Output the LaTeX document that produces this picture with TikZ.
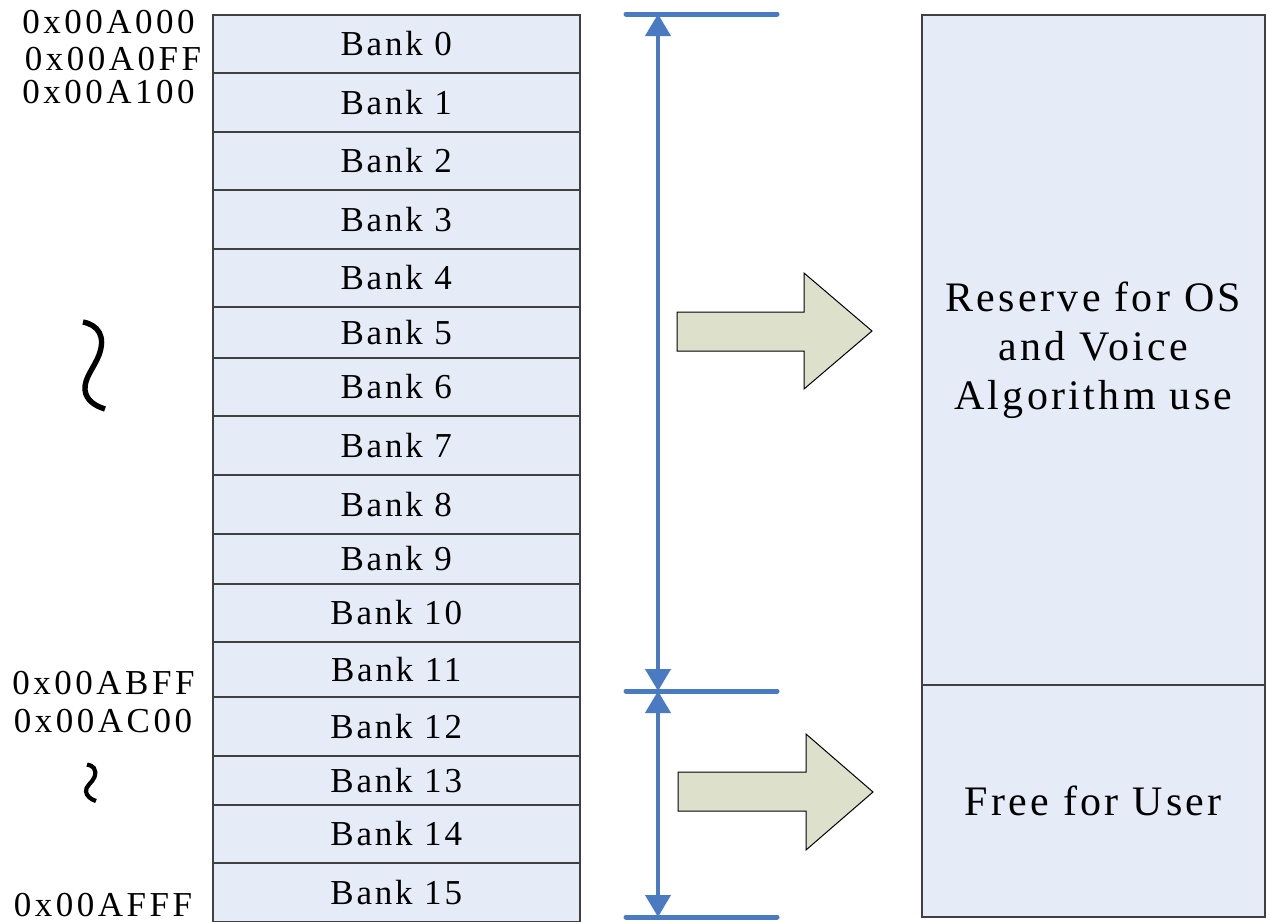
\documentclass[tikz,border=0pt]{standalone}
\usepackage{fontspec}
\setmainfont{Liberation Serif}[LetterSpace=8]
\newfontfamily\hexfont{Liberation Serif}[LetterSpace=10]
\usetikzlibrary{arrows.meta}
\definecolor{bankfill}{HTML}{E6ECF7}
\definecolor{blockfill}{HTML}{DDE1CC}
\definecolor{dimblue}{HTML}{4A7BC2}
\definecolor{edgegray}{HTML}{404040}
\begin{document}
\begin{tikzpicture}[x=0.5pt,y=-0.5pt,
  bankbox/.style={draw=edgegray, line width=0.75pt, fill=bankfill, minimum width=183.5pt,
    anchor=north west, inner sep=0pt, font=\fontsize{17.5}{21}\selectfont},
  hexlabel/.style={anchor=base, inner sep=0pt, font=\hexfont\fontsize{17.5}{21}\selectfont},
  areabox/.style={draw=edgegray, line width=0.75pt, fill=bankfill, minimum width=171.5pt,
    anchor=north west, inner sep=0pt, align=center, font=\fontsize{21}{24.5}\selectfont},
  blockarrow/.style={draw=black, line width=0.5pt, fill=blockfill},
  dimline/.style={draw=dimblue, line width=2.5pt, line cap=round},
  dimarrow/.style={draw=dimblue, line width=2pt,
    {Triangle[width=12.5pt,length=11pt]}-{Triangle[width=12.5pt,length=11pt]}},
  squiggle/.style={draw=black, line cap=butt}]
\useasboundingbox (0,0) rectangle (1269,921);

% bank column
\foreach \i/\t/\b in {0/14/72, 1/72/131, 2/131/189, 3/189/248, 4/248/306, 5/306/357,
  6/357/415, 7/415/474, 8/474/533, 9/533/583, 10/583/641, 11/641/696, 12/696/755,
  13/755/804, 14/804/862, 15/862/921}
  \node[bankbox, minimum height={(\b-\t)*0.5pt}] (bank\i) at (212,\t) {Bank \i};

% address labels
\node[hexlabel] (h0) at (108.5,33) {0x00A000};
\node[hexlabel] (h1) at (113,70) {0x00A0FF};
\node[hexlabel] (h2) at (108.5,103) {0x00A100};
\node[hexlabel] (h3) at (103.5,694) {0x00ABFF};
\node[hexlabel] (h4) at (103,732) {0x00AC00};
\node[hexlabel] (h5) at (103,916) {0x00AFFF};

% squiggles
\draw[squiggle, line width=2.7pt] (83,322) .. controls (98,325) and (106,336) .. (99,355)
  .. controls (94,368) and (84,378) .. (85,390) .. controls (86,400) and (95,406) .. (105,409);
\draw[squiggle, line width=2.1pt] (87,764.5) .. controls (93,765.5) and (97,769) .. (94.5,777)
  .. controls (92.5,782.5) and (85,786.5) .. (86,791.5) .. controls (86.5,796) and (91,799.5) .. (96,801);

% dimension lines
\coordinate (dtop) at (658,14);
\coordinate (dmid) at (658,691);
\coordinate (dbot) at (658,917);
\coordinate (tl) at (626,14);  \coordinate (tr) at (777,14);
\coordinate (ml) at (626,691); \coordinate (mr) at (777,691);
\coordinate (bl) at (626,917); \coordinate (br) at (777,917);
\draw[dimline] (tl) -- (tr);
\draw[dimline] (ml) -- (mr);
\draw[dimline] (bl) -- (br);
\draw[dimarrow] (dtop) -- (dmid);
\draw[dimarrow] (dmid) -- (dbot);

% block arrows
\draw[blockarrow] (677,312) -- (804,312) -- (804,273) -- (872,331) -- (804,389)
  -- (804,351) -- (677,351) -- cycle;
\draw[blockarrow] (678,772) -- (806,772) -- (806,734) -- (873,792) -- (806,850)
  -- (806,811) -- (678,811) -- cycle;

% right areas
\node[areabox, minimum height=335pt] (reserve) at (921,14)
  {Reserve for OS\\and Voice\\Algorithm use};
\node[areabox, minimum height=116pt] (free) at (921,684) {Free for User};
\end{tikzpicture}
\end{document}
